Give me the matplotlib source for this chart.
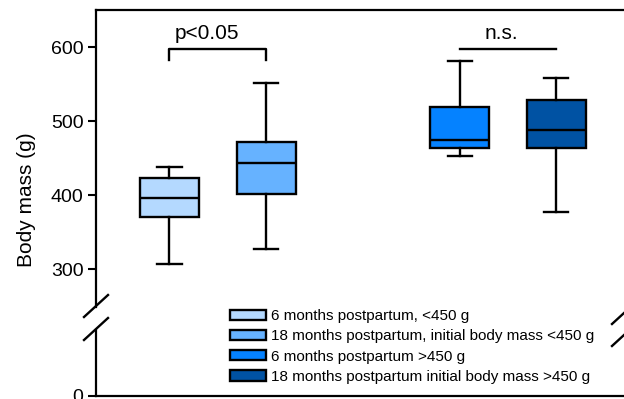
import numpy as np
import matplotlib
matplotlib.use('Agg')
import matplotlib.pyplot as plt
from matplotlib.patches import Patch

plt.rcParams['font.family'] = ['Liberation Sans', 'DejaVu Sans']

# box statistics (g)
labels = ['6 months postpartum, <450 g',
          '18 months postpartum, initial body mass <450 g',
          '6 months postpartum >450 g',
          '18 months postpartum initial body mass >450 g']
whislo = [307, 327, 453, 377]
q1 = [370, 402, 464, 464]
med = [396, 443, 475, 488]
q3 = [423, 472, 519, 529]
whishi = [438, 552, 581, 558]
colors = ['#b4d9ff', '#66b2ff', '#0582ff', '#0052a3']
positions = [1, 2, 4, 5]

W, H = 624, 399
fig = plt.figure(figsize=(W / 100, H / 100), dpi=100)

left = 96 / W
ax = fig.add_axes([left, (H - 307) / H, 1 - left, 297 / H])
ax2 = fig.add_axes([left, (H - 396) / H, 1 - left, 66 / H])

stats = []
for i in range(4):
    stats.append(dict(whislo=whislo[i], q1=q1[i], med=med[i], q3=q3[i],
                      whishi=whishi[i], fliers=[]))

lw = 1.7
bp = ax.bxp(stats, positions=positions, widths=0.61, capwidths=0.25,
            patch_artist=True, showfliers=False,
            boxprops=dict(linewidth=lw, edgecolor='black'),
            medianprops=dict(color='black', linewidth=lw),
            whiskerprops=dict(linewidth=lw), capprops=dict(linewidth=lw))
for box, c in zip(bp['boxes'], colors):
    box.set_facecolor(c)

ax.set_xlim(0.24, 5.7)
ax.set_ylim(249, 650)
ax.set_yticks([300, 400, 500, 600])
ax2.set_xlim(0.24, 5.7)
ax2.set_ylim(0, 100)
ax2.set_yticks([0])

for a in (ax, ax2):
    a.set_xticks([])
    a.spines['right'].set_visible(False)
    a.tick_params(axis='y', direction='out', length=6, width=1.5, pad=3,
                  labelsize=14)
    for s in a.spines.values():
        s.set_linewidth(1.6)
ax.spines['bottom'].set_visible(False)
ax2.spines['top'].set_visible(False)

# significance bars
ax.plot([1, 1, 2, 2], [583, 597, 597, 583], color='black', lw=lw)
ax.text(1.39, 605, 'p<0.05', ha='center', va='bottom', fontsize=15)
ax.plot([4, 5], [597, 597], color='black', lw=lw)
ax.text(4.43, 605, 'n.s.', ha='center', va='bottom', fontsize=15)

# axis break marks
def slash(xc, yc):
    fig.lines.append(plt.Line2D([(xc - 12) / W, (xc + 12) / W],
                                [(H - yc - 11) / H, (H - yc + 11) / H],
                                color='black', lw=1.7,
                                transform=fig.transFigure, clip_on=False))

slash(96, 306)
slash(96, 329)
slash(624, 313)
slash(624, 335)

fig.text(27 / W, (H - 200) / H, 'Body mass (g)', rotation=90,
         ha='center', va='center', fontsize=15)

handles = [Patch(facecolor=c, edgecolor='black', linewidth=1.7) for c in colors]
fig.legend(handles, labels, loc='upper left',
           bbox_to_anchor=(230 / W, (H - 309) / H), frameon=False,
           fontsize=11, handlelength=2.35, handleheight=0.65,
           handletextpad=0.35, labelspacing=0.41, borderpad=0, borderaxespad=0)

fig.savefig('out.png', dpi=100)
